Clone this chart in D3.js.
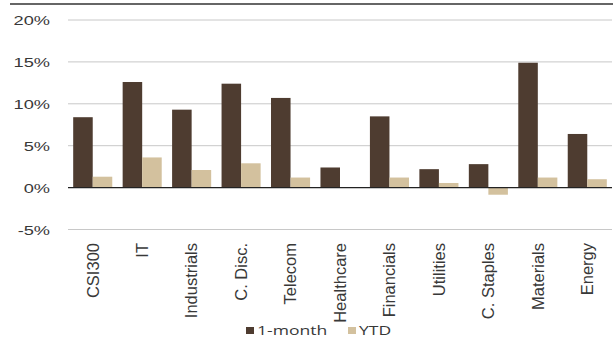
<!DOCTYPE html>
<html>
<head>
<meta charset="utf-8">
<script src="https://cdn.jsdelivr.net/npm/d3@7"></script>
<style>
  html, body { margin: 0; padding: 0; background: #fff; }
  svg { display: block; font-family: "Open Sans"; }
</style>
</head>
<body>
<svg id="chart" width="613" height="338"></svg>
<script>
// Sector returns (%)
const categories = ["CSI300", "IT", "Industrials", "C. Disc.", "Telecom", "Healthcare",
                    "Financials", "Utilities", "C. Staples", "Materials", "Energy"];
const oneMonth = [8.4, 12.6, 9.3, 12.4, 10.7, 2.4, 8.5, 2.2, 2.8, 14.9, 6.4];
const ytd      = [1.3, 3.6, 2.1, 2.9, 1.2, 0.05, 1.2, 0.55, -0.85, 1.2, 1.0];
const seriesNames = ["1-month", "YTD"];
const yTicks = [-5, 0, 5, 10, 15, 20];

const colors = { "1-month": "#4e3c30", "YTD": "#d3c19e" };
const textColor = "#383838";

const svg = d3.select("#chart");
const margin = { left: 68, right: 1, top: 20, bottom: 0 };
const plotRight = 613 - margin.right;

const x0 = d3.scaleBand().domain(categories).range([margin.left, plotRight]).paddingInner(0.21).paddingOuter(0.105);
const x1 = d3.scaleBand().domain(seriesNames).range([0, x0.bandwidth()]);
const y = d3.scaleLinear().domain([-5, 20]).range([229.5, 20]);

// top rule
svg.append("line").attr("x1", 10).attr("x2", 613).attr("y1", 4).attr("y2", 4)
  .attr("stroke", "#333").attr("stroke-width", 1.5);

// gridlines
svg.append("g").selectAll("line").data(yTicks.filter(d => d !== 0)).join("line")
  .attr("x1", margin.left).attr("x2", plotRight)
  .attr("y1", d => y(d)).attr("y2", d => y(d))
  .attr("stroke", "#c8c8c8").attr("stroke-width", 1);

// y axis labels (wide face)
const yAxis = d3.axisLeft(y).tickValues(yTicks).tickFormat(d => d + "%").tickSize(0).tickPadding(0);
const yg = svg.append("g").attr("transform", "translate(50,0)").call(yAxis);
yg.select(".domain").remove();
yg.selectAll("text").attr("font-size", 13.5).attr("fill", textColor).attr("dy", "0.35em")
  .attr("transform", "scale(1.35,1)");

// bars
const rows = categories.map((c, i) => ({ c, vals: [
  { k: "1-month", v: oneMonth[i] }, { k: "YTD", v: ytd[i] }] }));
const groups = svg.append("g").selectAll("g").data(rows).join("g")
  .attr("transform", d => `translate(${x0(d.c)},0)`);
groups.selectAll("rect").data(d => d.vals).join("rect")
  .attr("x", d => x1(d.k))
  .attr("width", x1.bandwidth())
  .attr("y", d => y(Math.max(0, d.v)))
  .attr("height", d => Math.abs(y(d.v) - y(0)))
  .attr("fill", d => colors[d.k]);

// zero line
svg.append("line").attr("x1", margin.left).attr("x2", plotRight)
  .attr("y1", y(0)).attr("y2", y(0)).attr("stroke", "#222").attr("stroke-width", 1.2);

// category labels
const xAxis = d3.axisBottom(x0).tickSize(0).tickPadding(0);
const xg = svg.append("g").attr("transform", "translate(0,243)").call(xAxis);
xg.select(".domain").remove();
xg.selectAll("text")
  .attr("font-size", 16.5).attr("fill", textColor)
  .attr("text-anchor", "end")
  .attr("transform", "rotate(-90)")
  .attr("x", 0).attr("y", 0).attr("dy", "0.35em")
  .attr("dx", 0);

// legend
const legend = svg.append("g");
const legendItems = [{ k: "1-month", x: 246 }, { k: "YTD", x: 348 }];
legendItems.forEach(it => {
  legend.append("rect").attr("x", it.x).attr("y", 327).attr("width", 8).attr("height", 7)
    .attr("fill", colors[it.k]);
  legend.append("text").attr("transform", `translate(${it.x + 11},335) scale(1.3,1)`)
    .attr("font-size", 13.5).attr("fill", textColor).text(it.k);
});
</script>
</body>
</html>
